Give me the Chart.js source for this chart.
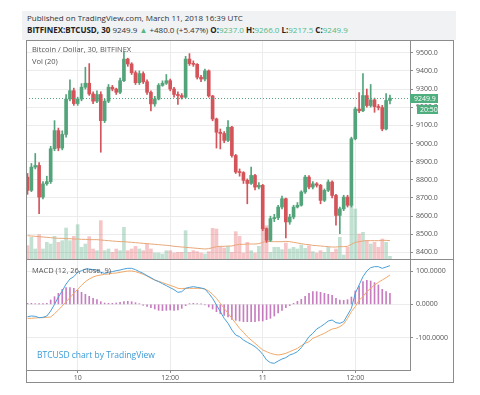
<!DOCTYPE html>
<html>
<head>
<meta charset="utf-8">
<script src="https://cdn.jsdelivr.net/npm/chart.js@4.4.1/dist/chart.umd.min.js"></script>
<style>
  body { margin: 0; background: #fff; font-family: 'Open Sans', sans-serif; }
  #page { position: relative; width: 480px; height: 395px; overflow: hidden; }
  #band { position: absolute; left: 22px; top: 11px; width: 434px; height: 29px; background: #f0f2f4; }
  .txt { position: absolute; white-space: nowrap; line-height: 1; }
  #pub { left: 27px; top: 14px; font-size: 8px; color: #333; }
  #sym { left: 27px; top: 26px; font-size: 8px; color: #333; }
  #sym b { color: #222; }
  .g { color: #53b987; }
  .pane { left: 32px; font-size: 7.5px; color: #555; }
  #brand { left: 37px; top: 351px; font-size: 8.5px; color: #3b9ad6; }
  canvas { position: absolute; }
  #main { left: 26px; top: 40px; }
  #macd { left: 26px; top: 259px; }
  #frame { position: absolute; left: 26px; top: 40px; width: 428px; height: 343px; border: 1px solid #8c8c8c; box-sizing: border-box; }
  #sep { position: absolute; left: 26px; top: 259px; width: 428px; height: 1px; background: #8c8c8c; }
</style>
</head>
<body>
<div id="page">
  <div id="band"></div>
  <div class="txt" id="pub">Published on TradingView.com, March 11, 2018 16:39 UTC</div>
  <div class="txt" id="sym"><b>BITFINEX:BTCUSD, 30</b> 9249.9 <span class="g">&#9650;</span> +480.0 (+5.47%) <b>O:</b><span class="g">9237.0</span> <b>H:</b><span class="g">9266.0</span> <b>L:</b><span class="g">9217.5</span> <b>C:</b><span class="g">9249.9</span></div>

  <canvas id="main" width="428" height="219"></canvas>
  <canvas id="macd" width="428" height="123"></canvas>

  <div id="frame"></div>
  <div id="sep"></div>

  <div class="txt pane" style="top:46px">Bitcoin / Dollar, 30, BITFINEX</div>
  <div class="txt pane" style="top:58px">Vol (20)</div>
  <div class="txt pane" style="top:267px">MACD (12, 26, close, 9)</div>
  <div class="txt" id="brand">BTCUSD chart by TradingView</div>
</div>

<script>
// BTCUSD 30 min, candle 0 = 9 Mar 17:30 UTC, last = 11 Mar 16:30 UTC
const timeLabels = ['10', '12:00', '11', '12:00'];
const timeIndex = [13, 37, 61, 85];
const priceTicks = [8400, 8500, 8600, 8700, 8800, 8900, 9000, 9100, 9200, 9300, 9400, 9500];
const macdTicks = [-100, 0, 100];

const opens = [8815, 8742, 8870, 8879, 8705, 8778, 8790, 8971, 9071, 8975, 9050, 9245, 9291, 9220, 9245, 9310, 9332, 9273, 9233, 9270,
  9126, 9233, 9310, 9300, 9282, 9346, 9465, 9438, 9390, 9335, 9385, 9340, 9282, 9218, 9245, 9320, 9332, 9346, 9300, 9270,
  9264, 9255, 9465, 9440, 9436, 9365, 9355, 9400, 9262, 9135, 9062, 9055, 9017, 9090, 8934, 8843, 8840, 8797, 8780, 8824,
  8760, 8770, 8531, 8467, 8586, 8592, 8650, 8696, 8568, 8595, 8650, 8660, 8733, 8815, 8760, 8778, 8770, 8687, 8742, 8788,
  8714, 8604, 8640, 8705, 8660, 9026, 9190, 9180, 9264, 9209, 9240, 9203, 9198, 9080, 9237];
const highs = [8835, 8890, 8945, 8895, 8790, 8820, 8985, 9126, 9085, 9070, 9270, 9350, 9305, 9255, 9330, 9420, 9440, 9285, 9290, 9285,
  9245, 9325, 9320, 9305, 9360, 9505, 9470, 9445, 9400, 9400, 9395, 9350, 9290, 9260, 9330, 9345, 9380, 9355, 9310, 9285,
  9275, 9480, 9495, 9455, 9440, 9375, 9410, 9405, 9265, 9140, 9080, 9065, 9126, 9095, 8940, 8860, 8845, 8805, 8870, 8830,
  8785, 8775, 8535, 8600, 8610, 8660, 8710, 8700, 8610, 8660, 8675, 8740, 8825, 8824, 8790, 8785, 8775, 8750, 8800, 8795,
  8720, 8650, 8715, 8715, 9035, 9200, 9280, 9385, 9300, 9325, 9250, 9215, 9210, 9275, 9266];
const lows = [8720, 8735, 8860, 8614, 8695, 8770, 8780, 8960, 8960, 8965, 9035, 9235, 9210, 9210, 9235, 9300, 9265, 9220, 9225, 8952,
  9115, 9225, 9290, 9270, 9275, 9340, 9425, 9380, 9325, 9325, 9330, 9270, 9180, 9205, 9240, 9315, 9325, 9290, 9255, 9215,
  9245, 9250, 9430, 9425, 9355, 9340, 9345, 9255, 9125, 8975, 8970, 9005, 9010, 8925, 8835, 8820, 8780, 8668, 8775, 8745,
  8750, 8520, 8455, 8460, 8570, 8580, 8640, 8480, 8555, 8585, 8645, 8655, 8725, 8750, 8750, 8760, 8668, 8680, 8735, 8700,
  8550, 8504, 8630, 8650, 8650, 9020, 9170, 9175, 9200, 9200, 9172, 9185, 9070, 9075, 9217.5];
const closes = [8742, 8870, 8879, 8705, 8778, 8790, 8971, 9071, 8975, 9050, 9245, 9291, 9220, 9245, 9310, 9332, 9273, 9233, 9270, 9126,
  9233, 9310, 9300, 9282, 9346, 9465, 9438, 9390, 9335, 9385, 9340, 9282, 9218, 9245, 9320, 9332, 9346, 9300, 9270, 9264,
  9255, 9465, 9440, 9436, 9365, 9355, 9400, 9262, 9135, 9062, 9055, 9017, 9090, 8934, 8843, 8840, 8797, 8780, 8824, 8760,
  8770, 8531, 8467, 8586, 8592, 8650, 8696, 8568, 8595, 8650, 8660, 8733, 8815, 8760, 8778, 8770, 8687, 8742, 8788, 8714,
  8604, 8640, 8705, 8660, 9026, 9190, 9180, 9264, 9209, 9240, 9203, 9198, 9080, 9237, 9249.9];

const volumes = [40, 65, 30, 73, 30, 50, 45, 68, 50, 55, 93, 55, 68, 103, 35, 45, 67, 30, 25, 115,
  25, 30, 20, 30, 25, 95, 25, 30, 38, 30, 25, 45, 30, 18, 18, 15, 25, 25, 18, 20,
  20, 85, 20, 25, 22, 18, 15, 22, 92, 90, 38, 33, 38, 20, 82, 68, 18, 50, 25, 18,
  38, 95, 100, 20, 35, 35, 28, 48, 30, 35, 30, 42, 32, 40, 22, 18, 25, 20, 35, 20,
  30, 65, 12, 35, 165, 150, 75, 80, 55, 45, 50, 35, 60, 50, 8];
const volumeMA = [70, 69, 68, 67, 66, 65, 64, 63, 62, 62, 61, 61, 60, 60, 59, 59, 58, 58, 58, 57,
  56, 55, 54, 53, 52, 52, 51, 50, 49, 48, 47, 46, 45, 44, 43, 42, 41, 40, 38, 37,
  36, 35, 34, 33, 32, 31, 30, 31, 34, 37, 38, 38, 39, 39, 42, 44, 44, 45, 45, 45,
  46, 50, 53, 52, 52, 52, 52, 53, 52, 50, 48, 46, 44, 43, 41, 40, 39, 38, 37, 36,
  36, 37, 37, 38, 44, 50, 52, 54, 55, 55, 55, 55, 56, 56, 55];

const macdLine = [-37, -35, -36, -40, -39, -35, -20, 0, 22, 40, 61, 76, 83, 96, 101, 106, 106, 104, 103, 96,
  93, 96, 98, 101, 103, 106, 108, 108, 104, 98, 93, 86, 80, 73, 68, 62, 56, 50, 44, 36,
  38, 48, 51, 53, 51, 49, 46, 33, 18, -2, -22, -42, -57, -77, -92, -97, -107, -114, -120, -127,
  -137, -150, -167, -175, -177, -170, -164, -160, -152, -148, -142, -130, -114, -97, -87, -74, -67, -59, -50, -47,
  -55, -57, -52, -32, -12, 33, 58, 83, 100, 110, 113, 113, 108, 112, 116];
const signalLine = [-42, -42, -41, -40, -40, -39, -38, -28, -17, -5, 8, 20, 33, 45, 57, 68, 76, 82, 86, 88,
  90, 91, 93, 94, 96, 98, 100, 100, 98, 94, 90, 85, 78, 73, 69, 65, 61, 57, 53, 48,
  47, 48, 48, 48, 48, 48, 46, 40, 30, 18, 3, -12, -27, -42, -57, -72, -84, -97, -107, -117,
  -127, -137, -142, -147, -150, -152, -150, -147, -142, -137, -132, -124, -117, -112, -102, -97, -92, -87, -80, -74,
  -72, -67, -59, -42, -22, -7, 13, 23, 38, 48, 58, 66, 73, 80, 88];
const histogram = [3, 3, 2, 2, 2, 3, 13, 23, 33, 45, 50, 50, 48, 43, 36, 30, 24, 18, 14, 8,
  4, 3, 3, 4, 6, 8, 9, 8, 5, 2, -3, -6, -10, -14, -18, -19, -18, -17, -18, -17,
  -12, -4, 2, 3, 2, 1, -2, -8, -14, -22, -28, -33, -38, -45, -48, -50, -52, -52, -52, -52,
  -50, -50, -46, -42, -35, -26, -18, -10, -4, 3, 9, 15, 24, 33, 38, 38, 36, 33, 30, 27,
  18, 13, 12, 14, 22, 40, 55, 68, 72, 70, 65, 58, 45, 38, 33];

const lastPrice = 9249.9;
const countdown = '20:50';

const upColor = '#53a47b';
const downColor = '#d4545a';
const upVol = 'rgba(83,170,125,0.35)';
const downVol = 'rgba(225,90,95,0.35)';
const gridColor = '#ececec';
const axisColor = '#8c8c8c';
const tickFont = { family: 'Open Sans', size: 7 };

const xMin = -0.4, xMax = 99.2;
const candleColors = closes.map((c, i) => c >= opens[i] ? upColor : downColor);
const volColors = closes.map((c, i) => c >= opens[i] ? upVol : downVol);

function timeAxis(showLabels) {
    return {
        type: 'linear',
        min: xMin,
        max: xMax,
        offset: false,
        afterBuildTicks: s => { s.ticks = timeIndex.map(v => ({ value: v })); },
        ticks: {
            display: showLabels,
            autoSkip: false,
            maxRotation: 0,
            padding: 1,
            font: tickFont,
            color: '#555',
            callback: (v, i) => timeLabels[i]
        },
        grid: { color: gridColor, offset: false, drawTicks: showLabels, tickLength: 3, tickColor: axisColor },
        border: { display: showLabels, color: axisColor },
        afterFit: s => { s.height = showLabels ? 12 : 0; s.paddingLeft = 0; s.paddingRight = 0; }
    };
}

function valueAxis(min, max, ticks, digits) {
    return {
        position: 'right',
        min: min,
        max: max,
        afterBuildTicks: s => { s.ticks = ticks.map(v => ({ value: v })); },
        ticks: { font: tickFont, color: '#555', padding: 3, callback: v => v.toFixed(digits) },
        grid: { color: gridColor, tickLength: 3, tickColor: axisColor },
        border: { color: axisColor },
        afterFit: s => { s.width = 44; s.paddingTop = 0; s.paddingBottom = 0; }
    };
}

// dotted last price line + green tags on the price axis
const lastPriceTag = {
    id: 'lastPriceTag',
    afterDatasetsDraw(chart) {
        const { ctx, chartArea } = chart;
        const y = Math.round(chart.scales.y.getPixelForValue(lastPrice)) + 0.5;
        ctx.save();
        ctx.strokeStyle = upColor;
        ctx.lineWidth = 1;
        ctx.setLineDash([1, 2]);
        ctx.beginPath();
        ctx.moveTo(chartArea.left, y);
        ctx.lineTo(chartArea.right, y);
        ctx.stroke();
        ctx.restore();
    },
    afterDraw(chart) {
        const { ctx, chartArea } = chart;
        const y = Math.round(chart.scales.y.getPixelForValue(lastPrice));
        ctx.save();
        ctx.fillStyle = '#4fae7e';
        ctx.fillRect(chartArea.right, y - 4, 28, 9);
        ctx.fillRect(chartArea.right + 7, y + 7, 21, 9);
        ctx.fillStyle = '#fff';
        ctx.font = '7px "Open Sans"';
        ctx.textBaseline = 'middle';
        ctx.fillText(lastPrice.toFixed(1), chartArea.right + 4, y + 0.5);
        ctx.fillText(countdown, chartArea.right + 10, y + 11.5);
        ctx.restore();
    }
};

new Chart(document.getElementById('main'), {
    type: 'bar',
    data: {
        datasets: [
            {
                label: 'body',
                data: closes.map((c, i) => ({ x: i, y: [opens[i], c] })),
                backgroundColor: candleColors,
                borderWidth: 0,
                barThickness: 3,
                minBarLength: 1,
                grouped: false,
                order: 0
            },
            {
                label: 'wick',
                data: highs.map((h, i) => ({ x: i, y: [lows[i], h] })),
                backgroundColor: candleColors,
                borderWidth: 0,
                barThickness: 1,
                grouped: false,
                order: 1
            },
            {
                type: 'line',
                label: 'Vol MA',
                data: volumeMA.map((v, i) => ({ x: i, y: v })),
                yAxisID: 'yv',
                borderColor: '#e8a778',
                borderWidth: 1,
                pointRadius: 0,
                order: 2
            },
            {
                label: 'Vol',
                data: volumes.map((v, i) => ({ x: i, y: v })),
                yAxisID: 'yv',
                backgroundColor: volColors,
                borderWidth: 0,
                barThickness: 3,
                grouped: false,
                order: 3
            }
        ]
    },
    options: {
        responsive: false,
        animation: false,
        layout: { padding: 0 },
        plugins: { legend: { display: false }, tooltip: { enabled: false } },
        scales: {
            x: timeAxis(false),
            y: valueAxis(8364, 9570, priceTicks, 1),
            yv: { display: false, min: 0, max: 657 }
        }
    },
    plugins: [lastPriceTag]
});

new Chart(document.getElementById('macd'), {
    type: 'bar',
    data: {
        datasets: [
            {
                type: 'line',
                label: 'MACD',
                data: macdLine.map((v, i) => ({ x: i, y: v })),
                borderColor: '#4a9fd8',
                borderWidth: 1,
                pointRadius: 0,
                order: 0
            },
            {
                type: 'line',
                label: 'Signal',
                data: signalLine.map((v, i) => ({ x: i, y: v })),
                borderColor: '#f2a868',
                borderWidth: 1,
                pointRadius: 0,
                order: 1
            },
            {
                label: 'Histogram',
                data: histogram.map((v, i) => ({ x: i, y: v })),
                backgroundColor: 'rgba(175,70,165,0.7)',
                borderWidth: 0,
                barThickness: 1,
                grouped: false,
                order: 2
            }
        ]
    },
    options: {
        responsive: false,
        animation: false,
        layout: { padding: 0 },
        plugins: { legend: { display: false }, tooltip: { enabled: false } },
        scales: {
            x: timeAxis(true),
            y: valueAxis(-197, 136, macdTicks, 4)
        }
    }
});
</script>
</body>
</html>
